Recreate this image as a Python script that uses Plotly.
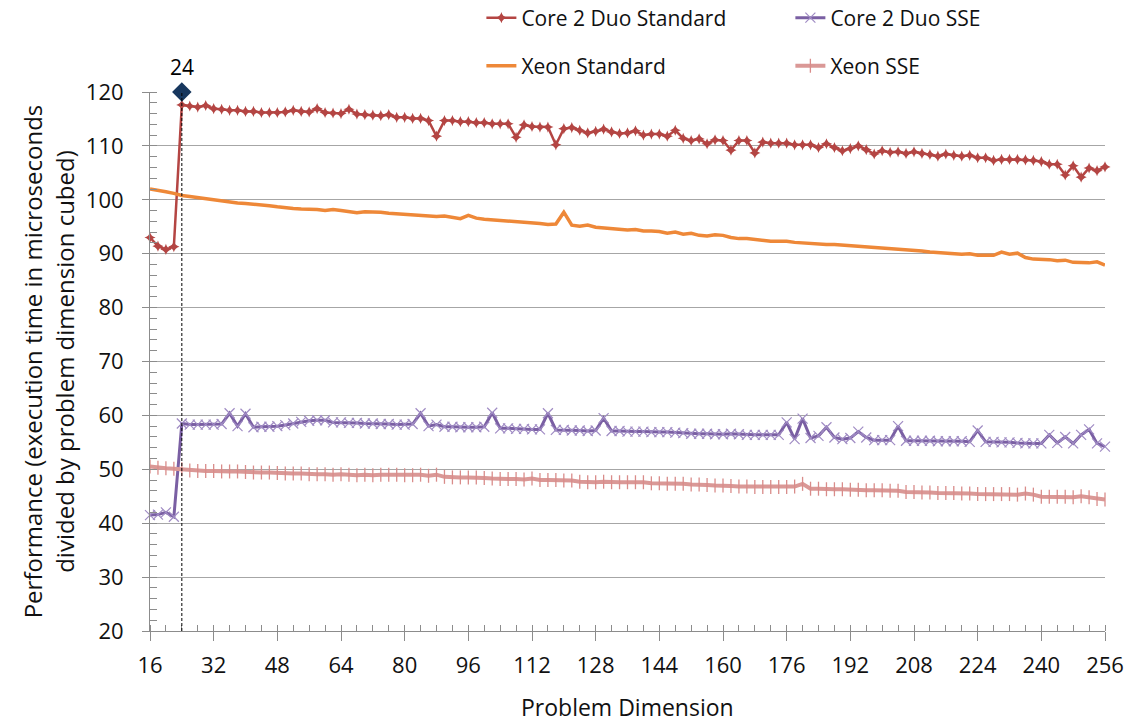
import plotly.graph_objects as go

dims = list(range(16, 258, 2))

core2_std = [93.0, 91.4, 90.8, 91.3, 117.6, 117.4, 117.2, 117.5, 116.9, 116.8,
             116.6, 116.6, 116.4, 116.4, 116.2, 116.2, 116.2, 116.3, 116.6, 116.4,
             116.3, 116.9, 116.2, 116.1, 116.0, 116.8, 115.9, 115.8, 115.7, 115.6,
             115.8, 115.3, 115.3, 115.1, 115.1, 114.7, 111.8, 114.7, 114.7, 114.5,
             114.5, 114.3, 114.3, 114.1, 114.1, 114.1, 111.6, 113.9, 113.6, 113.5,
             113.5, 110.2, 113.2, 113.4, 112.9, 112.4, 112.7, 113.1, 112.6, 112.3,
             112.4, 112.8, 112.0, 112.2, 112.2, 111.8, 112.9, 111.4, 111.0, 111.3,
             110.4, 111.1, 111.0, 109.2, 111.0, 111.0, 108.7, 110.7, 110.5, 110.5,
             110.5, 110.2, 110.2, 110.2, 109.7, 110.4, 109.7, 109.1, 109.5, 110.0,
             109.3, 108.5, 109.1, 108.8, 108.9, 108.6, 108.9, 108.6, 108.4, 108.1,
             108.5, 108.25, 108.1, 108.25, 107.8, 107.8, 107.3, 107.5, 107.5, 107.5,
             107.4, 107.3, 107.1, 106.6, 106.6, 104.6, 106.3, 104.2, 105.9, 105.4,
             106.1]

core2_sse = [41.5, 41.6, 42.0, 41.2, 58.5, 58.3, 58.3, 58.3, 58.3, 58.4,
             60.4, 58.0, 60.3, 57.8, 57.9, 57.9, 58.0, 58.2, 58.5, 58.8,
             59.0, 59.1, 59.1, 58.7, 58.7, 58.6, 58.6, 58.5, 58.5, 58.4,
             58.4, 58.3, 58.3, 58.4, 60.4, 58.0, 58.3, 57.9, 57.9, 57.8,
             57.8, 57.8, 57.9, 60.5, 57.6, 57.6, 57.5, 57.5, 57.4, 57.4,
             60.4, 57.3, 57.3, 57.2, 57.2, 57.1, 57.2, 59.5, 57.1, 57.1,
             57.0, 57.0, 57.0, 56.9, 56.9, 56.9, 56.8, 56.7, 56.6, 56.6,
             56.6, 56.5, 56.5, 56.6, 56.5, 56.4, 56.4, 56.4, 56.4, 56.4,
             58.7, 55.6, 59.4, 55.8, 56.2, 57.8, 55.9, 55.6, 55.8, 57.0,
             55.9, 55.4, 55.4, 55.4, 58.0, 55.3, 55.3, 55.3, 55.3, 55.2,
             55.2, 55.2, 55.2, 55.1, 57.2, 55.1, 55.1, 55.0, 55.0, 54.9,
             54.8, 54.8, 54.8, 56.4, 54.9, 56.0, 54.8, 56.4, 57.4, 54.8,
             54.2]

xeon_std = [102.0, 101.8, 101.5, 101.2, 100.8, 100.6, 100.4, 100.2, 99.9, 99.8,
            99.6, 99.4, 99.3, 99.2, 99.0, 98.9, 98.7, 98.5, 98.4, 98.3,
            98.3, 98.2, 98.0, 98.2, 98.0, 97.8, 97.6, 97.8, 97.8, 97.7,
            97.5, 97.4, 97.3, 97.1, 97.1, 97.0, 96.9, 97.0, 96.8, 96.5,
            97.1, 96.6, 96.4, 96.3, 96.1, 96.1, 96.0, 95.8, 95.8, 95.6,
            95.4, 95.5, 97.7, 95.3, 95.1, 95.3, 94.9, 94.8, 94.7, 94.6,
            94.4, 94.5, 94.2, 94.2, 94.1, 93.8, 94.0, 93.6, 93.8, 93.4,
            93.3, 93.5, 93.4, 93.0, 92.8, 92.8, 92.6, 92.5, 92.3, 92.3,
            92.3, 92.1, 92.0, 91.8, 91.8, 91.7, 91.7, 91.6, 91.4, 91.3,
            91.2, 91.1, 91.0, 90.9, 90.8, 90.7, 90.6, 90.5, 90.3, 90.2,
            90.2, 90.0, 89.9, 90.0, 89.7, 89.7, 89.7, 90.3, 89.9, 90.1,
            89.3, 89.0, 89.0, 88.9, 88.7, 88.8, 88.4, 88.4, 88.3, 88.5,
            87.9]

xeon_sse = [50.5, 50.3, 50.2, 50.1, 50.0, 49.8, 49.7, 49.7, 49.7, 49.6,
            49.6, 49.6, 49.5, 49.4, 49.4, 49.4, 49.3, 49.2, 49.2, 49.2,
            49.1, 49.1, 49.1, 49.0, 49.1, 49.0, 48.9, 49.0, 48.9, 49.0,
            49.0, 49.0, 48.9, 48.9, 49.0, 48.8, 49.0, 48.6, 48.5, 48.5,
            48.5, 48.5, 48.4, 48.3, 48.2, 48.2, 48.2, 48.1, 48.3, 48.0,
            48.0, 48.0, 47.9, 47.9, 47.7, 47.6, 47.6, 47.7, 47.6, 47.6,
            47.6, 47.6, 47.6, 47.4, 47.4, 47.3, 47.3, 47.3, 47.2, 47.2,
            47.1, 47.0, 47.0, 46.9, 46.8, 46.8, 46.7, 46.7, 46.7, 46.7,
            46.7, 46.8, 47.3, 46.4, 46.4, 46.3, 46.3, 46.3, 46.2, 46.2,
            46.1, 46.1, 46.1, 46.0, 46.0, 45.8, 45.8, 45.7, 45.7, 45.6,
            45.6, 45.6, 45.5, 45.5, 45.4, 45.4, 45.4, 45.4, 45.4, 45.3,
            45.5, 45.3, 44.9, 44.9, 44.9, 44.9, 44.8, 45.0, 44.8, 44.5,
            44.4]

marker_x = [24]
marker_y = [120]
marker_label = "24"

FONT = "Open Sans"
fig = go.Figure()

fig.add_trace(go.Scatter(x=dims, y=core2_std, name="Core 2 Duo Standard", mode="lines+markers",
                         line=dict(color="#B44543", width=2.5),
                         marker=dict(symbol="star-diamond", size=8, color="#B44543"),
                         legend="legend", cliponaxis=False))
fig.add_trace(go.Scatter(x=dims, y=core2_sse, name="Core 2 Duo SSE", mode="lines+markers",
                         line=dict(color="#7A5FA3", width=3),
                         marker=dict(symbol="x-thin", size=10, line=dict(color="#A08CC4", width=1.2)),
                         legend="legend", cliponaxis=False))
fig.add_trace(go.Scatter(x=dims, y=xeon_std, name="Xeon Standard", mode="lines",
                         line=dict(color="#EE8838", width=3.5),
                         legend="legend2", cliponaxis=False))
fig.add_trace(go.Scatter(x=dims, y=xeon_sse, name="Xeon SSE", mode="lines+markers",
                         line=dict(color="#DA9896", width=4),
                         marker=dict(symbol="line-ns", size=10, line=dict(color="#D98C8A", width=1.3)),
                         legend="legend2", cliponaxis=False))
fig.add_trace(go.Scatter(x=marker_x, y=marker_y, mode="markers", showlegend=False,
                         marker=dict(symbol="diamond", size=15, color="#17375E"),
                         cliponaxis=False))

fig.add_shape(type="line", x0=24, x1=24, y0=20, y1=120, xref="x", yref="y",
              line=dict(color="black", width=1, dash="3px,2px"), layer="above")

fig.add_annotation(x=marker_x[0], y=marker_y[0], text=marker_label, showarrow=False,
                   yanchor="bottom", yshift=9, font=dict(size=21, color="black", family=FONT))

# plot area: x 150..1105, y 92..631 (height 539)
fig.add_annotation(xref="paper", yref="paper", x=-0.107, y=0.5,
                   text="Performance (execution time in microseconds<br>divided by problem dimension cubed)",
                   textangle=-90, showarrow=False, xanchor="center", yanchor="middle",
                   font=dict(size=24, color="#111111", family=FONT))
fig.add_annotation(xref="paper", yref="paper", x=0.5, y=-(707 - 631) / 539, text="Problem Dimension",
                   showarrow=False, xanchor="center", yanchor="middle",
                   font=dict(size=23, color="#111111", family=FONT))

fig.update_layout(
    width=1141, height=722,
    margin=dict(l=150, r=36, t=92, b=91, autoexpand=False),
    paper_bgcolor="white", plot_bgcolor="white",
    font=dict(family=FONT, size=21, color="#111111"),
    legend=dict(orientation="h", x=0.347, xanchor="left", yref="container", y=1 - 18 / 722, yanchor="middle",
                entrywidth=264, font=dict(size=21), bgcolor="rgba(0,0,0,0)"),
    legend2=dict(orientation="h", x=0.347, xanchor="left", yref="container", y=1 - 66 / 722, yanchor="middle",
                 entrywidth=264, font=dict(size=21), bgcolor="rgba(0,0,0,0)"),
    xaxis=dict(range=[16, 256], tickmode="linear", tick0=16, dtick=16,
               ticks="outside", ticklen=9, tickcolor="#8C8C8C", tickwidth=1,
               showline=True, linecolor="#8C8C8C", linewidth=1, showgrid=False, zeroline=False,
               ticklabelstandoff=6, tickfont=dict(size=22),
               minor=dict(ticks="inside", dtick=4, tick0=16, ticklen=6, tickcolor="#8C8C8C", showgrid=False)),
    yaxis=dict(range=[20, 120], tickmode="linear", tick0=20, dtick=10,
               ticks="outside", ticklen=7, tickcolor="#8C8C8C", tickwidth=1,
               showline=True, linecolor="#8C8C8C", linewidth=1,
               showgrid=True, gridcolor="#A6A6A6", gridwidth=1, zeroline=False,
               ticklabelstandoff=14, tickfont=dict(size=22),
               minor=dict(ticks="inside", dtick=2, tick0=20, ticklen=7, tickcolor="#8C8C8C", showgrid=False)),
)

fig.write_html("out.html")
